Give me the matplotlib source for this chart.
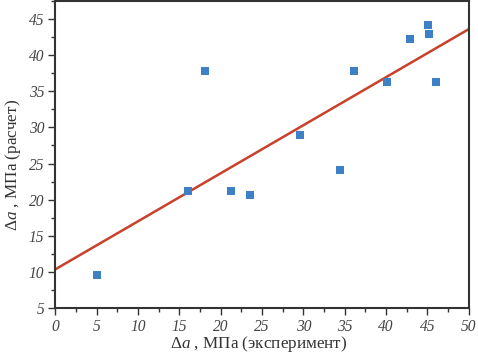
import matplotlib
matplotlib.use("Agg")
import matplotlib.pyplot as plt
from matplotlib.ticker import MultipleLocator

x_exp = [5.0, 16.1, 18.1, 21.25, 23.6, 29.55, 34.4, 36.1, 40.15, 42.85, 45.1, 45.15, 46.1]
y_calc = [9.5, 21.2, 37.8, 21.2, 20.6, 28.9, 24.1, 37.8, 36.3, 42.2, 44.2, 43.0, 36.3]
fit_x = [0, 50]
fit_y = [10.35, 43.6]
xticks = [0, 5, 10, 15, 20, 25, 30, 35, 40, 45, 50]
yticks = [5, 10, 15, 20, 25, 30, 35, 40, 45]

plt.rcParams['font.family'] = ['Liberation Serif', 'DejaVu Serif']
plt.rcParams['mathtext.fontset'] = 'custom'
plt.rcParams['mathtext.rm'] = 'Liberation Serif'
plt.rcParams['mathtext.it'] = 'Liberation Serif:italic'

fig = plt.figure(figsize=(4.78, 3.53), dpi=100)
ax = fig.add_axes([55.3/478, 45/353, 413.4/478, 307/353])

ax.plot(fit_x, fit_y, color='#c9402b', lw=1.8, zorder=2)
ax.scatter(x_exp, y_calc, marker='s', s=28, color='#3d80c6', zorder=3, linewidths=0)

ax.set_xlim(0, 50)
ax.set_ylim(5, 47.5)
ax.set_xticks(xticks)
ax.set_xticklabels([str(v) for v in xticks], fontstyle='italic', fontsize=11.2, color='#444444')
ax.set_yticks(yticks)
ax.set_yticklabels([str(v) for v in yticks], fontstyle='italic', fontsize=11.2, color='#444444')
ax.xaxis.set_minor_locator(MultipleLocator(2.5))
ax.yaxis.set_minor_locator(MultipleLocator(2.5))
ax.tick_params(which='both', direction='out', color='#333333', width=1.0)
ax.tick_params(which='major', length=5, pad=3)
ax.tick_params(which='minor', length=3)
for sp in ax.spines.values():
    sp.set_color('#333333')
    sp.set_linewidth(1.5)

ax.set_xlabel(r'$\Delta a$ , МПа (эксперимент)', fontsize=12.3, color='#333333')
ax.xaxis.set_label_coords(0.4915, -0.131)
ax.xaxis.label.set_va('baseline')
ax.set_ylabel(r'$\Delta a$ , МПа (расчет)', fontsize=12.3, color='#333333')
ax.yaxis.set_label_coords(-0.102, 0.466)
ax.yaxis.label.set_va('center')

fig.savefig('out.png', dpi=100)
